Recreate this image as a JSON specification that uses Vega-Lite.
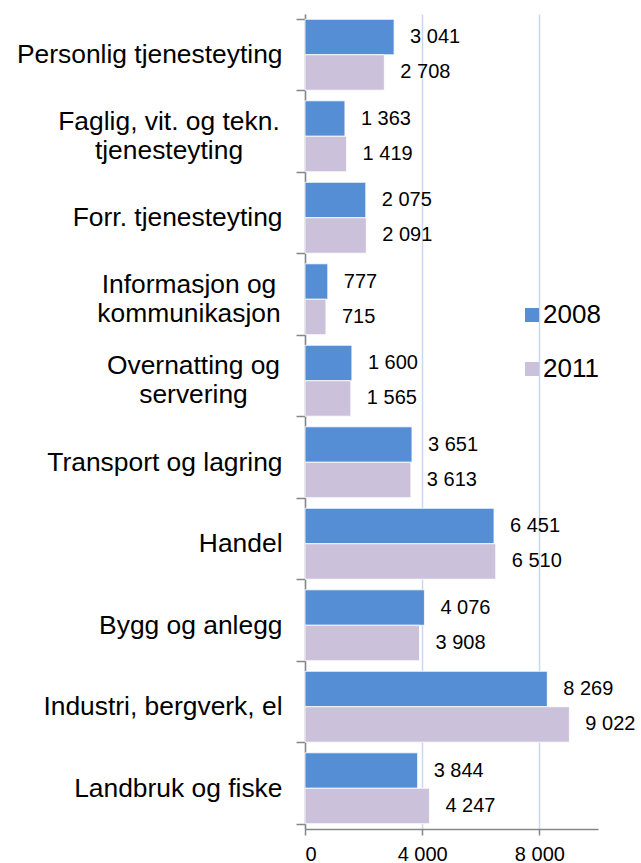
{
  "$schema": "https://vega.github.io/schema/vega-lite/v6.json",
  "autosize": "none",
  "width": 293,
  "height": 815,
  "padding": {"left": 305, "top": 14, "right": 43, "bottom": 34},
  "config": {
    "view": {"stroke": null},
    "font": "Liberation Sans",
    "locale": {"number": {"decimal": ",", "thousands": " ", "grouping": [3], "currency": ["", ""]}}
  },
  "data": {
    "values": [
      {"kategori": "Personlig tjenesteyting", "aar": "2008", "verdi": 3041},
      {"kategori": "Personlig tjenesteyting", "aar": "2011", "verdi": 2708},
      {"kategori": "Faglig, vit. og tekn.|tjenesteyting", "aar": "2008", "verdi": 1363},
      {"kategori": "Faglig, vit. og tekn.|tjenesteyting", "aar": "2011", "verdi": 1419},
      {"kategori": "Forr. tjenesteyting", "aar": "2008", "verdi": 2075},
      {"kategori": "Forr. tjenesteyting", "aar": "2011", "verdi": 2091},
      {"kategori": "Informasjon og|kommunikasjon", "aar": "2008", "verdi": 777},
      {"kategori": "Informasjon og|kommunikasjon", "aar": "2011", "verdi": 715},
      {"kategori": "Overnatting og|servering", "aar": "2008", "verdi": 1600},
      {"kategori": "Overnatting og|servering", "aar": "2011", "verdi": 1565},
      {"kategori": "Transport og lagring", "aar": "2008", "verdi": 3651},
      {"kategori": "Transport og lagring", "aar": "2011", "verdi": 3613},
      {"kategori": "Handel", "aar": "2008", "verdi": 6451},
      {"kategori": "Handel", "aar": "2011", "verdi": 6510},
      {"kategori": "Bygg og anlegg", "aar": "2008", "verdi": 4076},
      {"kategori": "Bygg og anlegg", "aar": "2011", "verdi": 3908},
      {"kategori": "Industri, bergverk, el", "aar": "2008", "verdi": 8269},
      {"kategori": "Industri, bergverk, el", "aar": "2011", "verdi": 9022},
      {"kategori": "Landbruk og fiske", "aar": "2008", "verdi": 3844},
      {"kategori": "Landbruk og fiske", "aar": "2011", "verdi": 4247}
    ]
  },
  "encoding": {
    "y": {
      "field": "kategori",
      "type": "nominal",
      "sort": null,
      "scale": {"paddingInner": 0.13, "paddingOuter": 0.065},
      "axis": {
        "title": null,
        "tickBand": "extent",
        "labelExpr": "indexof(datum.label, '|') >= 0 ? '' : datum.label",
        "labelFontSize": 26.4,
        "labelColor": "#000000",
        "labelPadding": 14,
        "labelLimit": 400,
        "tickSize": 9,
        "tickColor": "#868686",
        "domainColor": "#868686",
        "domainWidth": 1.5,
        "tickWidth": 1.5
      }
    }
  },
  "layer": [
    {
      "mark": {"type": "bar", "stroke": "#ffffff", "strokeWidth": 0.8},
      "encoding": {
        "yOffset": {"field": "aar", "type": "nominal", "sort": ["2008", "2011"]},
        "x": {
          "field": "verdi",
          "type": "quantitative",
          "scale": {"domain": [0, 10000], "nice": false},
          "axis": {
            "title": null,
            "values": [0, 4000, 8000],
            "format": ",d",
            "labelFontSize": 20,
            "labelColor": "#000000",
            "labelPadding": 9,
            "tickSize": 6,
            "tickColor": "#868686",
            "domainColor": "#868686",
            "domainWidth": 1.5,
            "tickWidth": 1.5,
            "gridColor": "#C6D9F1",
            "gridWidth": 1.5
          }
        },
        "color": {
          "field": "aar",
          "type": "nominal",
          "scale": {"domain": ["2008", "2011"], "range": ["#558ED5", "#CCC1DA"]},
          "legend": {
            "title": null,
            "orient": "none",
            "legendX": 214,
            "legendY": 288,
            "symbolType": "square",
            "symbolSize": 196,
            "symbolStrokeWidth": 0,
            "labelFontSize": 26,
            "labelColor": "#000000",
            "labelOffset": -2,
            "rowPadding": 28
          }
        }
      }
    },
    {
      "mark": {"type": "text", "align": "left", "baseline": "middle", "dx": 16, "fontSize": 20, "color": "#000000"},
      "encoding": {
        "yOffset": {"field": "aar", "type": "nominal", "sort": ["2008", "2011"]},
        "x": {"field": "verdi", "type": "quantitative"},
        "text": {"field": "verdi", "type": "quantitative", "format": ",d"}
      }
    },
    {
      "transform": [{"filter": "datum.aar === '2008' && datum.kategori === 'Faglig, vit. og tekn.|tjenesteyting'"}],
      "mark": {"type": "text", "align": "center", "baseline": "middle", "lineBreak": "|", "lineHeight": 29, "dx": -136, "dy": -14.5, "fontSize": 26.4, "color": "#000000"},
      "encoding": {
        "x": {"datum": 0, "type": "quantitative"},
        "text": {"field": "kategori", "type": "nominal"}
      }
    },
    {
      "transform": [{"filter": "datum.aar === '2008' && datum.kategori === 'Informasjon og|kommunikasjon'"}],
      "mark": {"type": "text", "align": "center", "baseline": "middle", "lineBreak": "|", "lineHeight": 29, "dx": -116, "dy": -14.5, "fontSize": 26.4, "color": "#000000"},
      "encoding": {
        "x": {"datum": 0, "type": "quantitative"},
        "text": {"field": "kategori", "type": "nominal"}
      }
    },
    {
      "transform": [{"filter": "datum.aar === '2008' && datum.kategori === 'Overnatting og|servering'"}],
      "mark": {"type": "text", "align": "center", "baseline": "middle", "lineBreak": "|", "lineHeight": 29, "dx": -111.5, "dy": -14.5, "fontSize": 26.4, "color": "#000000"},
      "encoding": {
        "x": {"datum": 0, "type": "quantitative"},
        "text": {"field": "kategori", "type": "nominal"}
      }
    }
  ]
}
